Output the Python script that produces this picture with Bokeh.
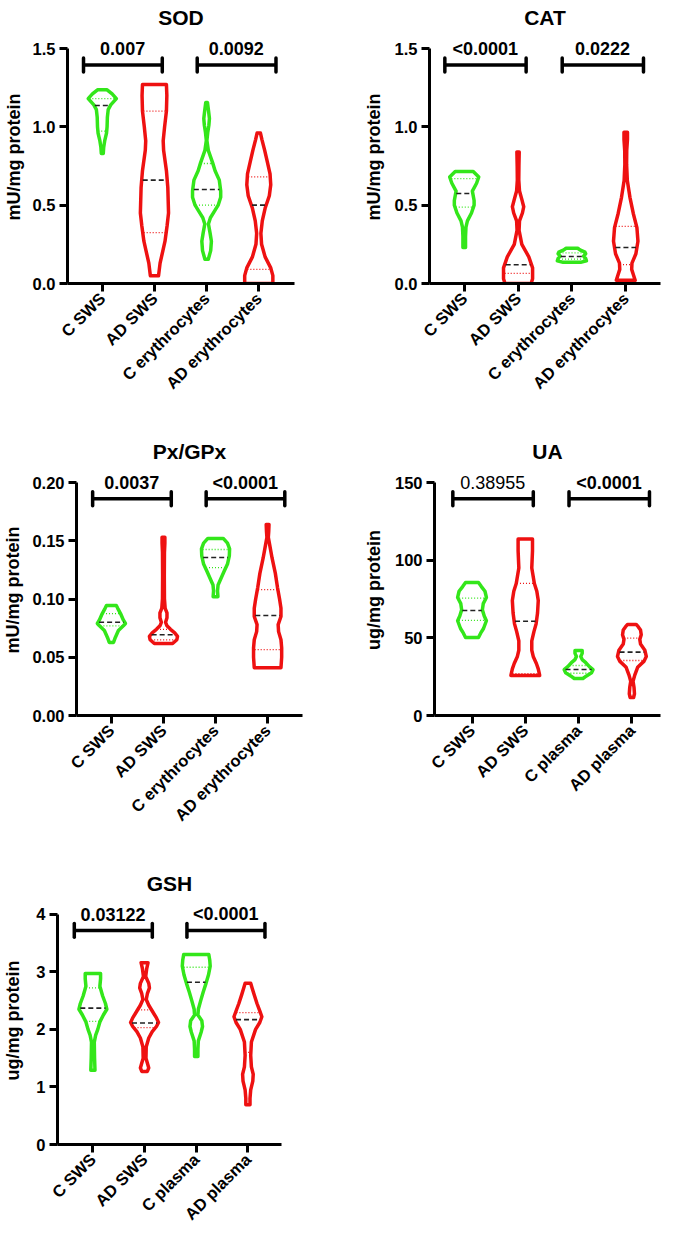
import numpy as np
from bokeh.plotting import figure
from bokeh.layouts import column, row
from bokeh.models import Range1d, FixedTicker, PrintfTickFormatter
from bokeh.embed import file_html
from bokeh.resources import INLINE
from bokeh.core.properties import value

# ------------------------------------------------------------------ data
CATS_ERY = ["C SWS", "AD SWS", "C erythrocytes", "AD erythrocytes"]
CATS_PLASMA = ["C SWS", "AD SWS", "C plasma", "AD plasma"]

# violin outlines: values (y) and relative half-widths (0..1)
SOD_Y = [[0.83, 0.87, 0.91, 0.96, 1.00, 1.06, 1.11, 1.14, 1.18, 1.21, 1.236],
         [0.05, 0.13, 0.21, 0.27, 0.37, 0.45, 0.61, 0.72, 0.85, 0.91, 1.00, 1.10, 1.20, 1.27],
         [0.155, 0.21, 0.27, 0.32, 0.38, 0.42, 0.46, 0.50, 0.55, 0.59, 0.66, 0.72, 0.77, 0.85, 0.913, 0.964, 1.01, 1.053, 1.10, 1.155],
         [0.0, 0.05, 0.10, 0.17, 0.25, 0.32, 0.40, 0.48, 0.56, 0.63, 0.70, 0.78, 0.85, 0.92, 0.96]]
SOD_W = [[0.07, 0.10, 0.17, 0.30, 0.34, 0.36, 0.42, 0.60, 1.0, 0.70, 0.34],
         [0.29, 0.40, 0.60, 0.75, 0.90, 1.0, 0.95, 0.85, 0.65, 0.62, 0.72, 0.85, 0.88, 0.85],
         [0.12, 0.29, 0.34, 0.25, 0.13, 0.27, 0.55, 0.82, 1.0, 1.0, 0.90, 0.60, 0.43, 0.12, 0.02, 0.08, 0.16, 0.20, 0.14, 0.06],
         [1.0, 1.0, 0.85, 0.45, 0.20, 0.15, 0.25, 0.45, 0.75, 0.85, 0.80, 0.60, 0.42, 0.22, 0.12]]
SOD_MED = [1.136, 0.66, 0.60, 0.50]
SOD_Q1 = [0.972, 0.325, 0.50, 0.09]
SOD_Q3 = [1.18, 1.10, 0.766, 0.68]
SOD_P = ["0.007", "0.0092"]

CAT_Y = [[0.23, 0.30, 0.36, 0.40, 0.45, 0.50, 0.53, 0.59, 0.64, 0.68, 0.715],
         [0.0, 0.03, 0.10, 0.17, 0.25, 0.34, 0.40, 0.45, 0.49, 0.54, 0.59, 0.66, 0.75, 0.84],
         [0.135, 0.145, 0.16, 0.175, 0.19, 0.20, 0.215, 0.225],
         [0.02, 0.05, 0.09, 0.13, 0.19, 0.27, 0.357, 0.447, 0.55, 0.657, 0.70, 0.76, 0.85, 0.92, 0.965]]
CAT_W = [[0.09, 0.09, 0.12, 0.22, 0.50, 0.68, 0.68, 0.56, 0.85, 1.0, 0.62],
         [0.9, 1.0, 1.0, 0.74, 0.26, 0.07, 0.10, 0.30, 0.39, 0.25, 0.10, 0.05, 0.06, 0.08],
         [0.6, 1.0, 0.95, 0.8, 0.95, 0.9, 0.55, 0.4],
         [0.65, 0.55, 0.41, 0.43, 0.70, 0.84, 0.77, 0.52, 0.29, 0.11, 0.09, 0.06, 0.07, 0.12, 0.12]]
CAT_MED = [0.574, 0.12, 0.172, 0.23]
CAT_Q1 = [0.487, 0.065, 0.155, 0.121]
CAT_Q3 = [0.67, 0.344, 0.195, 0.364]
CAT_P = ["<0.0001", "0.0222"]

PX_Y = [[0.0627, 0.067, 0.073, 0.077, 0.079, 0.082, 0.0875, 0.092, 0.0944],
        [0.0618, 0.065, 0.068, 0.071, 0.074, 0.077, 0.080, 0.084, 0.088, 0.092, 0.10, 0.12, 0.14, 0.148, 0.153],
        [0.102, 0.107, 0.112, 0.118, 0.124, 0.130, 0.137, 0.143, 0.148, 0.152],
        [0.041, 0.05, 0.058, 0.065, 0.072, 0.078, 0.085, 0.092, 0.100, 0.110, 0.122, 0.135, 0.145, 0.153, 0.158, 0.164]]
PX_W = [[0.15, 0.28, 0.5, 0.85, 1.0, 0.85, 0.65, 0.45, 0.35],
        [0.65, 0.95, 1.0, 0.8, 0.5, 0.25, 0.15, 0.25, 0.25, 0.12, 0.07, 0.06, 0.07, 0.1, 0.1],
        [0.17, 0.14, 0.18, 0.4, 0.62, 0.85, 0.98, 1.0, 0.85, 0.55],
        [0.95, 1.0, 1.0, 0.95, 0.78, 0.75, 0.95, 0.95, 0.85, 0.7, 0.55, 0.32, 0.17, 0.05, 0.08, 0.1]]
PX_MED = [0.080, 0.0693, 0.1356, 0.0858]
PX_Q1 = [0.077, 0.065, 0.127, 0.0566]
PX_Q3 = [0.0875, 0.074, 0.1425, 0.108]
PX_P = ["0.0037", "<0.0001"]

UA_Y = [[50.2, 53, 56, 61, 64, 68, 72, 76, 80, 83, 85.6],
        [25.8, 30, 33.5, 38, 42, 48, 54, 59, 66, 74, 80, 85, 95, 106, 113.7],
        [23.8, 25.5, 27.5, 29.5, 31.5, 34, 36, 38, 40, 41.8],
        [11.6, 14, 18, 22, 26, 31, 35, 38, 42, 46, 49, 52, 55, 57, 58.6]]
UA_W = [[0.45, 0.6, 0.8, 1.0, 0.85, 0.72, 0.78, 1.0, 0.9, 0.65, 0.45],
        [1.0, 0.9, 0.77, 0.55, 0.45, 0.45, 0.6, 0.75, 0.85, 0.9, 0.8, 0.63, 0.45, 0.5, 0.5],
        [0.3, 0.55, 0.9, 1.0, 0.75, 0.5, 0.25, 0.15, 0.25, 0.25],
        [0.12, 0.18, 0.15, 0.08, 0.2, 0.4, 0.85, 1.0, 0.9, 0.6, 0.55, 0.65, 0.6, 0.45, 0.3]]
UA_MED = [67.6, 60.7, 29.6, 40.8]
UA_Q1 = [61.2, 27.0, 27.2, 35.4]
UA_Q3 = [75.5, 85.0, 32.2, 49.8]
UA_P = ["0.38955", "<0.0001"]

GSH_Y = [[1.29, 1.5, 1.78, 1.9, 2.0, 2.13, 2.25, 2.35, 2.45, 2.58, 2.75, 2.88, 2.97],
         [1.27, 1.33, 1.4, 1.5, 1.7, 1.85, 1.96, 2.05, 2.12, 2.2, 2.32, 2.42, 2.52, 2.62, 2.72, 2.8, 2.92, 3.05, 3.16],
         [1.53, 1.65, 1.8, 1.95, 2.05, 2.15, 2.25, 2.35, 2.5, 2.65, 2.8, 2.95, 3.1, 3.2, 3.3],
         [0.69, 0.8, 0.95, 1.1, 1.22, 1.35, 1.55, 1.78, 2.0, 2.12, 2.22, 2.32, 2.45, 2.6, 2.72, 2.8]]
GSH_W = [[0.15, 0.12, 0.1, 0.2, 0.35, 0.5, 0.75, 1.0, 0.9, 0.7, 0.5, 0.55, 0.55],
         [0.2, 0.3, 0.22, 0.1, 0.12, 0.3, 0.55, 0.85, 1.0, 0.85, 0.55, 0.3, 0.12, 0.2, 0.35, 0.3, 0.08, 0.15, 0.25],
         [0.12, 0.12, 0.15, 0.35, 0.45, 0.4, 0.12, 0.15, 0.32, 0.5, 0.7, 0.88, 1.0, 0.97, 0.9],
         [0.15, 0.15, 0.2, 0.35, 0.38, 0.25, 0.2, 0.25, 0.55, 0.85, 1.0, 0.85, 0.65, 0.45, 0.3, 0.2]]
GSH_MED = [2.37, 2.11, 2.82, 2.17]
GSH_Q1 = [2.14, 2.03, 2.34, 1.6]
GSH_Q3 = [2.72, 2.34, 3.08, 2.29]
GSH_P = ["0.03122", "<0.0001"]

# ------------------------------------------------------------------ style
FONT = "Liberation Sans"
GREEN = "#33e61a"
RED = "#ee1111"
COLORS = [GREEN, RED, GREEN, RED]
W_MAX = 0.27                       # max violin half-width (category units)
BR_X0 = [-0.36, 1.82]
BR_X1 = [1.15, 3.33]
P_X = [0.39, 2.57]
FRAME_TOP, YMAX_PX = 30, 48


def make_panel(title, cats, ylabel, ymax, ystep, fmt, Ys, Ws, med, q1, q3, pvals,
               pbold, width, height, frame_bottom, bl, br, xr, lab_standoff):
    fh = frame_bottom - FRAME_TOP
    y_end = ymax * fh / (frame_bottom - YMAX_PX)
    p = figure(width=width, height=height, output_backend="svg", toolbar_location=None,
               x_range=Range1d(xr[0], xr[1]), y_range=Range1d(0, y_end),
               min_border_left=bl, min_border_right=br,
               min_border_top=FRAME_TOP, min_border_bottom=height - frame_bottom,
               title=title)
    p.grid.visible = False
    p.outline_line_color = None
    p.background_fill_color = "white"
    p.title.align = "center"
    p.title.text_font = FONT
    p.title.text_font_style = "bold"
    p.title.text_font_size = "21px"
    p.title.text_color = "black"
    p.title.standoff = 4

    # violins
    xs, ys = [], []
    for i, (Y, W) in enumerate(zip(Ys, Ws)):
        Y = np.asarray(Y, float)
        W = np.asarray(W, float) * W_MAX
        xs.append(np.concatenate([i - W, (i + W)[::-1]]))
        ys.append(np.concatenate([Y, Y[::-1]]))
    p.patches(xs, ys, fill_color=None, line_color=COLORS, line_width=3.5,
              line_join="round")

    # quartile / median lines
    def hw(i, v):
        return float(np.interp(v, Ys[i], Ws[i])) * W_MAX * 0.92
    for vals, dash, lw, cols in ((q1, "1 2", 1.3, COLORS), (q3, "1 2", 1.3, COLORS),
                                 (med, "5 3", 1.6, ["#222222"] * 4)):
        x0 = [i - hw(i, v) for i, v in enumerate(vals)]
        x1 = [i + hw(i, v) for i, v in enumerate(vals)]
        p.segment(x0=x0, y0=vals, x1=x1, y1=vals, line_color=cols,
                  line_width=lw, line_dash=dash)

    # significance brackets
    yb = 0.93 * ymax
    cap = 7 * y_end / fh
    p.segment(x0=BR_X0, y0=[yb, yb], x1=BR_X1, y1=[yb, yb], line_color="black",
              line_width=3.5)
    p.segment(x0=BR_X0 + BR_X1, y0=[yb - cap] * 4, x1=BR_X0 + BR_X1,
              y1=[yb + cap] * 4, line_color="black", line_width=3.5, line_cap="round")
    for k in range(2):
        p.text(x=[P_X[k]], y=[ymax], text=[pvals[k]], text_align="center",
               text_baseline="middle", text_font=value(FONT),
               text_font_style="bold" if pbold[k] else "normal",
               text_font_size="18px", text_color="black")

    for ax in (p.xaxis[0], p.yaxis[0]):
        ax.axis_line_width = 3
        ax.axis_line_color = "black"
        ax.major_tick_line_width = 3
        ax.major_tick_line_color = "black"
        ax.major_tick_out = 8
        ax.major_tick_in = 0
        ax.minor_tick_line_color = None
        ax.major_label_text_font = FONT
        ax.major_label_text_font_style = "bold"
        ax.major_label_text_font_size = "16.5px"
        ax.major_label_text_color = "black"
        ax.major_label_standoff = 4
    p.xaxis.ticker = FixedTicker(ticks=[0, 1, 2, 3])
    p.xaxis.major_label_overrides = {i: c for i, c in enumerate(cats)}
    p.xaxis.major_label_orientation = np.pi / 4
    nt = int(round(ymax / ystep))
    p.yaxis.ticker = FixedTicker(ticks=[k * ystep for k in range(nt + 1)])
    p.yaxis.formatter = PrintfTickFormatter(format=fmt)
    p.yaxis.bounds = (0, ymax)
    p.yaxis.axis_label = ylabel
    p.yaxis.axis_label_text_font = FONT
    p.yaxis.axis_label_text_font_style = "bold"
    p.yaxis.axis_label_text_font_size = "18px"
    p.yaxis.axis_label_text_color = "black"
    p.yaxis.axis_label_standoff = lab_standoff
    return p


p_sod = make_panel("SOD", CATS_ERY, "mU/mg protein", 1.5, 0.5, "%.1f", SOD_Y, SOD_W,
                   SOD_MED, SOD_Q1, SOD_Q3, SOD_P, [True, True],
                   360, 434, 283, 59, 66, (-0.667, 3.685), 6)
p_cat = make_panel("CAT", CATS_ERY, "mU/mg protein", 1.5, 0.5, "%.1f", CAT_Y, CAT_W,
                   CAT_MED, CAT_Q1, CAT_Q3, CAT_P, [True, True],
                   302, 434, 283, 67, 2, (-0.645, 3.646), 8)
p_px = make_panel("Px/GPx", CATS_ERY, "mU/mg protein", 0.2, 0.05, "%.2f", PX_Y, PX_W,
                  PX_MED, PX_Q1, PX_Q3, PX_P, [True, True],
                  360, 432, 281, 69, 58, (-0.67, 3.67), 6)
p_ua = make_panel("UA", CATS_PLASMA, "ug/mg protein", 150, 50, "%d", UA_Y, UA_W,
                  UA_MED, UA_Q1, UA_Q3, UA_P, [False, True],
                  302, 432, 281, 71, 2, (-0.704, 3.537), 8)
p_gsh = make_panel("GSH", CATS_PLASMA, "ug/mg protein", 4, 1, "%d", GSH_Y, GSH_W,
                   GSH_MED, GSH_Q1, GSH_Q3, GSH_P, [True, True],
                   360, 366, 281, 47, 79, (-0.685, 3.65), 10)

layout = column(row(p_sod, p_cat), row(p_px, p_ua), p_gsh)
open("out.html", "w").write(file_html(layout, INLINE, title="Antioxidant violins"))
